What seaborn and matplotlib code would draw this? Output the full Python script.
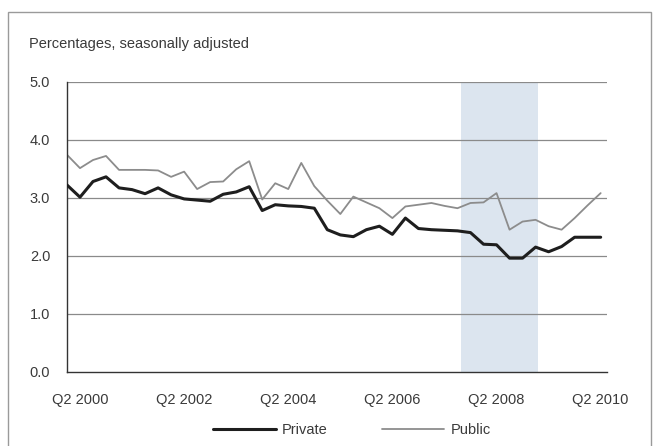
import numpy as np
import pandas as pd
import seaborn as sns
import matplotlib
matplotlib.use("Agg")
import matplotlib.pyplot as plt
from matplotlib.patches import Rectangle

# quarterly data, Q1 2000 .. Q2 2010
quarters = [f"Q{q} {y}" for y in range(2000, 2011) for q in range(1, 5)][:42]

private = [3.22, 3.01, 3.28, 3.36, 3.17, 3.14, 3.07, 3.17, 3.05, 2.98,
           2.96, 2.94, 3.06, 3.10, 3.19, 2.78, 2.88, 2.86, 2.85, 2.82,
           2.45, 2.36, 2.33, 2.45, 2.51, 2.37, 2.65, 2.47, 2.45, 2.44,
           2.43, 2.40, 2.20, 2.19, 1.96, 1.96, 2.15, 2.07, 2.16, 2.32,
           2.32, 2.32]
public = [3.74, 3.51, 3.65, 3.72, 3.48, 3.48, 3.48, 3.47, 3.36, 3.45,
          3.15, 3.27, 3.28, 3.49, 3.63, 2.97, 3.25, 3.15, 3.60, 3.20,
          2.95, 2.72, 3.02, 2.92, 2.82, 2.65, 2.85, 2.88, 2.91, 2.86,
          2.82, 2.91, 2.92, 3.08, 2.45, 2.59, 2.62, 2.51, 2.45, 2.65,
          2.87, 3.08]

tick_labels = ["Q2 2000", "Q2 2002", "Q2 2004", "Q2 2006", "Q2 2008", "Q2 2010"]
shade_start, shade_end = 30.3, 36.2

df = pd.DataFrame({"idx": range(len(quarters)), "quarter": quarters,
                   "Private": private, "Public": public})

sns.set_style("white")
plt.rcParams['font.family'] = ['Liberation Sans', 'DejaVu Sans']

fig = plt.figure(figsize=(6.54, 4.46), dpi=100)
ax = fig.add_axes([0.1024, 0.166, 0.826, 0.651])

ax.axvspan(shade_start, shade_end, color='#dce5ef', zorder=0, lw=0)
for v in [1, 2, 3, 4, 5]:
    ax.axhline(v, color='#8a8a8a', lw=0.9, zorder=1)

sns.lineplot(data=df, x="idx", y="Private", color='#1e1e1e', linewidth=2.2,
             label="Private", ax=ax, zorder=3)
sns.lineplot(data=df, x="idx", y="Public", color='#8c8c8c', linewidth=1.3,
             label="Public", ax=ax, zorder=2)

ax.set_xlim(0, 41.5)
ax.set_ylim(0, 5)
ax.set_yticks([0, 1, 2, 3, 4, 5])
ax.set_yticklabels([f"{v:.1f}" for v in range(6)])
tick_pos = [quarters.index(t) for t in tick_labels]
ax.set_xticks(tick_pos)
ax.set_xticklabels(tick_labels)
ax.tick_params(axis='both', length=0, labelsize=10.5, labelcolor='#3a3a3a')
ax.tick_params(axis='x', pad=15)
ax.tick_params(axis='y', pad=12)
ax.set_xlabel("")
ax.set_ylabel("")

for s in ['top', 'right']:
    ax.spines[s].set_visible(False)
for s in ['left', 'bottom']:
    ax.spines[s].set_color('#333333')
    ax.spines[s].set_linewidth(1.0)

leg = ax.legend(loc='center', bbox_to_anchor=(352 / 654, 1 - 430 / 446), bbox_transform=fig.transFigure,
                ncol=2, frameon=False, fontsize=10.5, handlelength=4.3,
                columnspacing=3.7, handletextpad=0.4)
for t in leg.get_texts():
    t.set_color('#3a3a3a')

fig.text(29 / 654, 1 - 44 / 446, "Percentages, seasonally adjusted", fontsize=10.5,
         color='#3a3a3a', va='center', ha='left')

fig.patches.append(Rectangle((8 / 654, -0.01), 643 / 654, 1 - 12 / 446 + 0.01,
                             transform=fig.transFigure, fill=False,
                             edgecolor='#9a9a9a', lw=1.0))

fig.savefig("out.png", dpi=100)
